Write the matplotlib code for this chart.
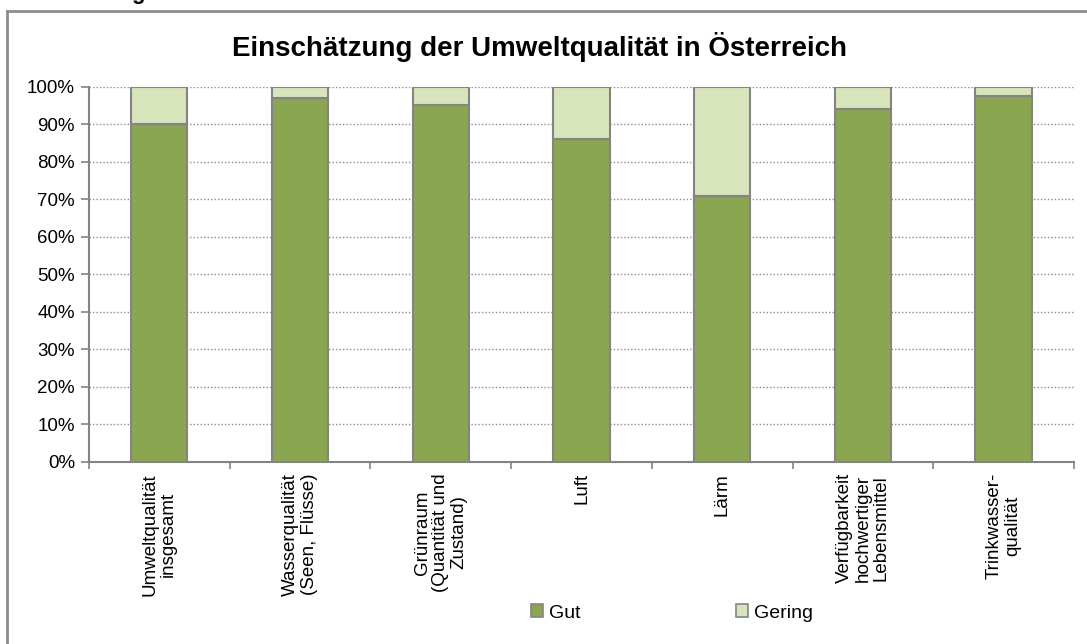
import matplotlib.pyplot as plt
from matplotlib.lines import Line2D
from matplotlib.patches import Patch
import numpy as np

plt.rcParams['font.family'] = ['Liberation Sans', 'DejaVu Sans']

# data
categories = ['Umweltqualität\ninsgesamt',
              'Wasserqualität\n(Seen, Flüsse)',
              'Grünraum\n(Quantität und\nZustand)',
              'Luft',
              'Lärm',
              'Verfügbarkeit\nhochwertiger\nLebensmittel',
              'Trinkwasser-\nqualität']
gut = [90, 97, 95, 86, 71, 94, 97.5]
gering = [100 - g for g in gut]
yticks = list(range(0, 101, 10))

W, H = 1087, 644
fig = plt.figure(figsize=(W / 100, H / 100), dpi=100)
ax = fig.add_axes([89 / W, 1 - 462 / H, (1074 - 89) / W, (462 - 86.7) / H])

x = np.arange(len(categories))
edge = '#848484'
ax.bar(x, gut, width=0.4, color='#8BA650', edgecolor=edge, linewidth=1.5, zorder=3)
ax.bar(x, gering, width=0.4, bottom=gut, color='#D8E4BC', edgecolor=edge, linewidth=1.5, zorder=3)

ax.set_xlim(-0.5, len(categories) - 0.5)
ax.set_ylim(0, 100)
ax.set_yticks(yticks)
ax.set_yticklabels([f'{t}%' for t in yticks], fontsize=13.5)
ax.set_xticks(x)
ax.set_xticklabels(categories, rotation=90, fontsize=13.5, va='top', ha='center',
                   linespacing=1.1)
ax.set_xticks(np.arange(len(categories) + 1) - 0.5, minor=True)
ax.tick_params(axis='x', which='major', length=0, pad=8)
ax.tick_params(axis='x', which='minor', length=5, color=edge, width=1.2)
ax.tick_params(axis='y', length=6, color=edge, width=1.2, pad=4)

ax.yaxis.grid(True, linestyle=(0, (1, 1.5)), color='#8c8c8c', linewidth=1)
for s in ['top', 'right']:
    ax.spines[s].set_visible(False)
for s in ['left', 'bottom']:
    ax.spines[s].set_color(edge)
    ax.spines[s].set_linewidth(1.5)

fig.text(540 / W, 1 - 47 / H, 'Einschätzung der Umweltqualität in Österreich',
         fontsize=20, fontweight='bold', ha='center', va='center')

# cropped heading above the box
fig.text(146 / W, 1 + 1.5 / H, 'Abbildung', fontsize=16, fontweight='bold',
         ha='right', va='baseline')

# outer chart border (cropped at right and bottom)
fig.add_artist(Line2D([7 / W, 7 / W], [1 - 11 / H, 0], color='#8c8c8c', lw=2, transform=fig.transFigure))
fig.add_artist(Line2D([7 / W, 1], [1 - 11 / H, 1 - 11 / H], color='#8c8c8c', lw=2, transform=fig.transFigure))

handles = [Patch(facecolor='#8BA650', edgecolor=edge, linewidth=1.2),
           Patch(facecolor='#D8E4BC', edgecolor=edge, linewidth=1.2)]
fig.legend(handles, ['Gut', 'Gering'], loc='center', bbox_to_anchor=(672 / W, 1 - 613 / H),
           ncol=2, frameon=False, fontsize=14, handlelength=0.6, handleheight=0.6,
           handletextpad=0.3, columnspacing=8.0)

fig.savefig('out.png', dpi=100)
